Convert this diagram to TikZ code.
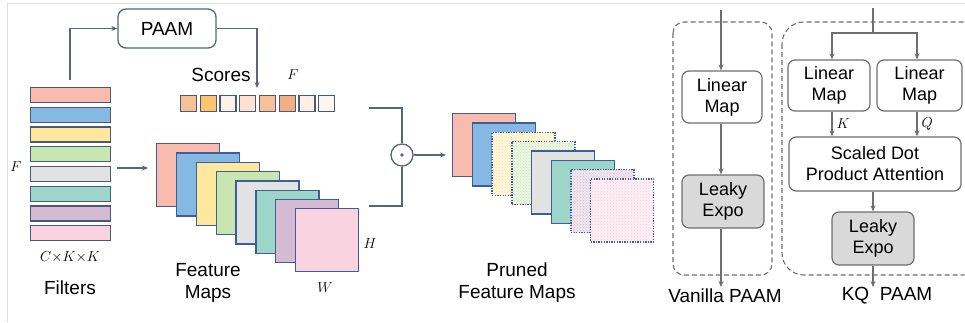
\documentclass[tikz,border=0pt]{standalone}
\usepackage{fontspec}
\setmainfont{Liberation Sans}
\usetikzlibrary{arrows.meta,patterns}
\definecolor{c1}{HTML}{F8BBAE}
\definecolor{c2}{HTML}{85B8E2}
\definecolor{c3}{HTML}{FFE89E}
\definecolor{c4}{HTML}{C8E6B0}
\definecolor{c5}{HTML}{E2E2E2}
\definecolor{c6}{HTML}{9DD6C8}
\definecolor{c7}{HTML}{D4BAD3}
\definecolor{c8}{HTML}{F9D3DF}
\definecolor{s1}{HTML}{F7C196}
\definecolor{s2}{HTML}{FCC470}
\definecolor{s3}{HTML}{FDF2EA}
\definecolor{s4}{HTML}{FDE2D2}
\definecolor{s5}{HTML}{F8C096}
\definecolor{s6}{HTML}{F3AE85}
\definecolor{s7}{HTML}{FDEFE3}
\definecolor{s8}{HTML}{FDF6EF}
\definecolor{barline}{HTML}{4A5A75}
\definecolor{mapline}{HTML}{3F5E98}
\definecolor{cline}{HTML}{56657A}
\definecolor{gline}{HTML}{6E6E6E}
\definecolor{leaky}{HTML}{D9D9D9}
\begin{document}
\begin{tikzpicture}[x=1pt,y=-1pt,
  bar/.style={draw=barline,line width=1.3pt,minimum width=80pt,minimum height=15pt,inner sep=0pt,anchor=north west},
  score/.style={draw=barline,line width=1.3pt,minimum width=16pt,minimum height=16pt,inner sep=0pt,anchor=north west},
  fmap/.style={draw=mapline,line width=1.3pt,minimum width=63pt,minimum height=63pt,inner sep=0pt,anchor=north west},
  pmap/.style={draw=mapline,line width=1.4pt,dash pattern=on 1.3pt off 1.3pt,minimum width=63pt,minimum height=63pt,inner sep=0pt,anchor=north west,pattern=crosshatch dots},
  conn/.style={draw=cline,line width=1.3pt,-{Stealth[length=6pt,width=5pt]}},
  plain/.style={draw=cline,line width=1.3pt},
  gconn/.style={draw=gline,line width=1.2pt,-{Stealth[length=6pt,width=5pt]}},
  gplain/.style={draw=gline,line width=1.2pt},
  box/.style={draw=gline,line width=1.2pt,rounded corners=7pt,fill=white,inner sep=0pt,align=center,font=\fontsize{18}{21}\selectfont},
  lbl/.style={inner sep=0pt,align=center,font=\fontsize{19}{22}\selectfont},
  mlbl/.style={inner sep=0pt,font=\fontsize{15}{17}\selectfont}
]
\useasboundingbox (0,0) rectangle (965,322);
\clip (0,0) rectangle (965,322);
% frame lines
\draw[draw=black!13,line width=0.8pt] (7,322) -- (7,3) -- (965,3);

% filters
\foreach \i/\c in {1/c1,2/c2,3/c3,4/c4,5/c5,6/c6,7/c7,8/c8}{
  \node[bar,fill=\c] (f\i) at (30,{87+19.7*(\i-1)}) {};
}
\node[mlbl] (fF) at (16,167) {$F$};
\node[mlbl] (fckk) at (70,257) {$C{\times}K{\times}K$};
\node[lbl] (filters) at (70,288) {Filters};

% PAAM
\node[draw=cline,line width=1.3pt,rounded corners=8pt,minimum width=98pt,minimum height=39pt,inner sep=0pt,font=\fontsize{19}{22}\selectfont] (paam) at (167,28.5) {PAAM};
\coordinate (fup) at (70,80);
\coordinate (sdown) at (257,88);
\draw[conn] (fup) |- (paam.west);
\draw[conn] (paam.east) -| (sdown);

% scores
\node[lbl] (scores) at (221,75) {Scores};
\node[mlbl] (sF) at (293,75) {$F$};
\foreach \i/\c in {1/s1,2/s2,3/s3,4/s4,5/s5,6/s6,7/s7,8/s8}{
  \node[score,fill=\c] (s\i) at ({180+19.7*(\i-1)},95) {};
}

% feature maps
\coordinate (fr) at (117,168);
\coordinate (fmin) at (148,168);
\draw[conn] (fr) -- (fmin);
\foreach \i/\c in {1/c1,2/c2,3/c3,4/c4,5/c5,6/c6,7/c7,8/c8}{
  \node[fmap,fill=\c] (m\i) at ({156+19.85*(\i-1)},{143+9.3*(\i-1)}) {};
}
\node[mlbl] (mH) at (370,244) {$H$};
\node[mlbl] (mW) at (325,288) {$W$};
\node[lbl] (fmlbl) at (208,283) {Feature\\Maps};

% product
\node[draw=cline,line width=1.3pt,circle,minimum size=22pt,inner sep=0pt] (prod) at (402,155) {};
\fill[cline] (prod.center) circle (1.8pt);
\coordinate (t1) at (369,108);
\coordinate (b1) at (369,206);
\draw[plain] (t1) -| (prod.north);
\draw[plain] (b1) -| (prod.south);
\coordinate (pin) at (446,155);
\draw[conn] (prod.east) -- (pin);

% pruned maps
\foreach \i/\c/\t in {1/c1/s,2/c2/s,3/c3/d,4/c4/d,5/c5/s,6/c6/s,7/c7/d,8/c8/d}{
  \if\t s
    \node[fmap,fill=\c] (p\i) at ({452+19.7*(\i-1)},{113+9.3*(\i-1)}) {};
  \else
    \node[pmap,pattern color=\c,preaction={fill=\c!35}] (p\i) at ({452+19.7*(\i-1)},{113+9.3*(\i-1)}) {};
  \fi
}
\node[lbl] (pmlbl) at (517,283) {Pruned\\Feature Maps};

% Vanilla PAAM
\draw[draw=gline,line width=1.1pt,dash pattern=on 5pt off 3pt,rounded corners=11pt] (673,22) rectangle (772,275);
\node[box,minimum width=80pt,minimum height=52pt] (vlin) at (722,97) {Linear\\Map};
\node[box,fill=leaky,minimum width=82pt,minimum height=53pt] (vle) at (723,201.5) {Leaky\\Expo};
\coordinate (vin) at (721,10);
\coordinate (vout) at (721,287);
\draw[gconn] (vin) -- (vin |- vlin.north);
\draw[gconn] (vin |- vlin.south) -- (vin |- vle.north);
\draw[gconn] (vin |- vle.south) -- (vout);
\node[lbl] (vlbl) at (725,296) {Vanilla PAAM};

% KQ PAAM
\draw[draw=gline,line width=1.1pt,dash pattern=on 5pt off 3pt,rounded corners=22pt] (782,22) rectangle (985,275);
\node[box,minimum width=82pt,minimum height=51pt] (klin) at (829,85.5) {Linear\\Map};
\node[box,minimum width=85pt,minimum height=51pt] (qlin) at (919.5,85.5) {Linear\\Map};
\node[box,minimum width=172pt,minimum height=54pt] (sdp) at (875,164) {Scaled Dot\\Product Attention};
\node[box,fill=leaky,minimum width=82pt,minimum height=53pt] (kle) at (873,238.5) {Leaky\\Expo};
\coordinate (kin) at (873,8);
\coordinate (ksplit) at (873,33);
\coordinate (kx) at (832,33);
\coordinate (qx) at (917,33);
\draw[gplain] (kin) -- (ksplit);
\draw[gconn] (ksplit) -| (kx |- klin.north);
\draw[gconn] (ksplit) -| (qx |- qlin.north);
\draw[gconn] (kx |- klin.south) -- (kx |- sdp.north) node[midway,right=4pt,mlbl] (klab) {$K$};
\draw[gconn] (qx |- qlin.south) -- (qx |- sdp.north) node[midway,right=4pt,mlbl] (qlab) {$Q$};
\coordinate (kout) at (873,287);
\draw[gconn] (kout |- sdp.south) -- (kout |- kle.north);
\draw[gconn] (kout |- kle.south) -- (kout);
\node[lbl] (kqlbl) at (887,296) {KQ\ \ PAAM};
\end{tikzpicture}
\end{document}
